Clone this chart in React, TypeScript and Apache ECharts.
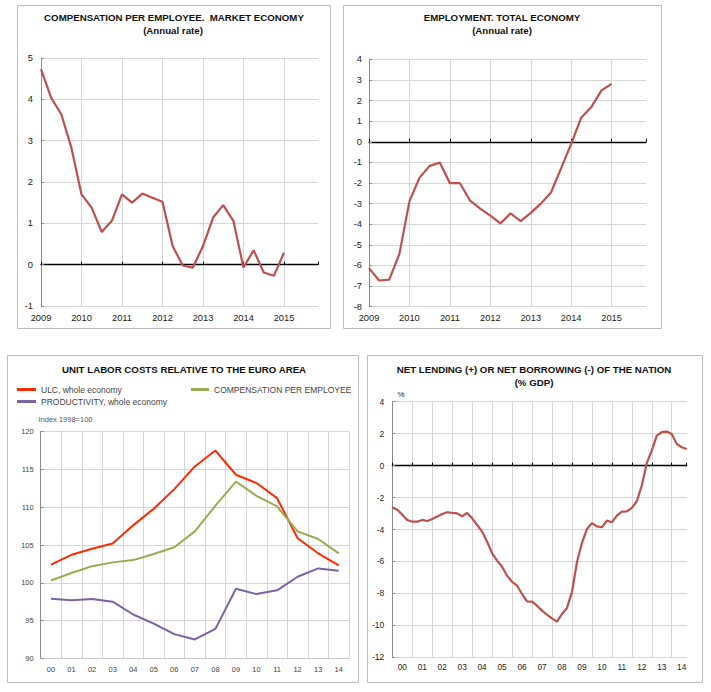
import React, { useEffect, useRef } from 'react';
import * as echarts from 'echarts';

// ---------- DATA ----------
// Panel 1: Compensation per employee, market economy (annual rate, quarterly from 2009Q1)
const compStartYear = 2009;
const compensationQ = [4.73, 4.04, 3.64, 2.83, 1.7, 1.38, 0.79, 1.06, 1.7, 1.5, 1.72, 1.62, 1.52, 0.45, -0.02, -0.07, 0.45, 1.14, 1.44, 1.06, -0.07, 0.35, -0.19, -0.27, 0.29];

// Panel 2: Employment, total economy (annual rate, quarterly from 2009Q1)
const empStartYear = 2009;
const employmentQ = [-6.13, -6.73, -6.69, -5.45, -2.89, -1.74, -1.17, -1.01, -2.01, -2.01, -2.86, -3.24, -3.58, -3.96, -3.47, -3.85, -3.45, -3.0, -2.46, -1.29, -0.1, 1.18, 1.69, 2.49, 2.81];

// Panel 3: Unit labor costs relative to the euro area (index 1998=100)
const ulcYears = ['00', '01', '02', '03', '04', '05', '06', '07', '08', '09', '10', '11', '12', '13', '14'];
const ulcWhole = [102.4, 103.7, 104.5, 105.2, 107.6, 109.8, 112.4, 115.4, 117.5, 114.3, 113.2, 111.2, 105.9, 103.9, 102.3];
const compPerEmployee = [100.3, 101.3, 102.2, 102.7, 103.0, 103.8, 104.7, 106.8, 110.2, 113.4, 111.5, 110.1, 106.8, 105.8, 103.9];
const productivity = [97.9, 97.7, 97.85, 97.5, 95.8, 94.6, 93.2, 92.5, 93.9, 99.2, 98.5, 99.0, 100.8, 101.9, 101.6];

// Panel 4: Net lending (+) / net borrowing (-) of the nation (% GDP, quarterly from 2000Q1)
const nlStartYear = 2000;
const netLendingQ = [
  -2.61, -2.76, -3.07, -3.4, -3.51, -3.51, -3.4, -3.47, -3.34, -3.19,
  -3.03, -2.92, -2.96, -2.99, -3.17, -2.96, -3.3, -3.72, -4.13, -4.76,
  -5.49, -5.95, -6.33, -6.89, -7.27, -7.52, -8.04, -8.5, -8.52, -8.77,
  -9.08, -9.33, -9.56, -9.77, -9.29, -8.91, -7.93, -6.05, -4.86, -3.97,
  -3.6, -3.8, -3.86, -3.44, -3.55, -3.13, -2.88, -2.86, -2.65, -2.23,
  -1.25, 0.15, 0.94, 1.88, 2.09, 2.13, 1.98, 1.36, 1.15, 1.04,
];

const S_ULC = 'ULC, whole economy';
const S_COMP = 'COMPENSATION PER EMPLOYEE';
const S_PROD = 'PRODUCTIVITY, whole economy';

// ---------- STYLE ----------
const FONT = '"Liberation Sans", Arial, Helvetica, sans-serif';
const GRID_COLOR = '#d6d6d6';
const AXIS_COLOR = '#8c8c8c';
const BRICK = '#c0504d';
const TITLE_SIZE = 9.7;

const quarterly = (start: number, vals: number[]) => vals.map((v, i) => [start + i / 4, v]);

function yAxisDef(grid: number, min: number, max: number, interval: number, fontSize: number, color: string, margin: number) {
  return {
    gridIndex: grid,
    type: 'value',
    min,
    max,
    interval,
    axisLine: { show: true, lineStyle: { color: AXIS_COLOR, width: 1 } },
    axisTick: { show: true, inside: true, length: 3, lineStyle: { color: AXIS_COLOR } },
    axisLabel: { fontSize, color, margin, fontFamily: FONT },
    splitLine: { show: true, lineStyle: { color: GRID_COLOR, width: 1 } },
  };
}

function zeroXAxis(grid: number, min: number, max: number) {
  return {
    gridIndex: grid,
    type: 'value',
    min,
    max,
    interval: 1,
    position: 'bottom',
    axisLine: { show: true, onZero: true, lineStyle: { color: '#000', width: 1.3 } },
    axisTick: { show: true, inside: true, length: 3, lineStyle: { color: '#000' } },
    axisLabel: { show: false },
    splitLine: { show: true, showMinLine: false, showMaxLine: false, lineStyle: { color: GRID_COLOR, width: 1 } },
  };
}

function labelXAxis(grid: number, min: number, max: number, interval: number, fmt: (v: number) => string, fontSize: number, color: string, margin: number) {
  return {
    gridIndex: grid,
    type: 'value',
    min,
    max,
    interval,
    position: 'bottom',
    axisLine: { show: false, onZero: false },
    axisTick: { show: false },
    axisLabel: { show: true, showMaxLabel: false, formatter: fmt, fontSize, color, margin, fontFamily: FONT },
    splitLine: { show: false },
  };
}

function titleText(x: number, y: number, text: string, size = TITLE_SIZE, bold = true, color = '#111') {
  return {
    type: 'text',
    x,
    y,
    silent: true,
    style: {
      text,
      fill: color,
      font: `${bold ? 'bold ' : ''}${size}px ${FONT}`,
      align: 'center',
      textAlign: 'center',
      verticalAlign: 'middle',
      textVerticalAlign: 'middle',
    },
  };
}

function plainText(x: number, y: number, text: string, size: number, color: string) {
  return {
    type: 'text',
    x,
    y,
    silent: true,
    style: {
      text,
      fill: color,
      font: `${size}px ${FONT}`,
      align: 'left',
      textAlign: 'left',
      verticalAlign: 'middle',
      textVerticalAlign: 'middle',
    },
  };
}

function border(x1: number, y1: number, x2: number, y2: number) {
  return {
    type: 'rect',
    silent: true,
    shape: { x: x1 + 0.5, y: y1 + 0.5, width: x2 - x1, height: y2 - y1 },
    style: { fill: 'none', stroke: '#bdbdbd', lineWidth: 1 },
  };
}

export default function App() {
  const ref = useRef<HTMLDivElement>(null);

  useEffect(() => {
    if (!ref.current) return;
    const chart = echarts.init(ref.current, null, { renderer: 'svg' });

    const yearFmt = (v: number) => (Math.abs(v - Math.round(v)) < 1e-6 ? String(Math.round(v)) : '');
    const halfYearFmt = (v: number) => {
      const f = Math.floor(v);
      return Math.abs(v - f - 0.5) < 1e-6 ? String(f % 100).padStart(2, '0') : '';
    };

    const option: any = {
      animation: false,
      textStyle: { fontFamily: FONT },
      grid: [
        { left: 41, top: 58, width: 277, height: 248 },
        { left: 369, top: 59.3, width: 277, height: 247.4 },
        { left: 40.7, top: 431.7, width: 308.3, height: 226.6 },
        { left: 392.3, top: 401.7, width: 294.4, height: 255.6 },
      ],
      xAxis: [
        zeroXAxis(0, 2009, 2015.84),
        labelXAxis(0, 2009, 2015.84, 1, yearFmt, 9.3, '#222', 7),
        zeroXAxis(1, 2009, 2015.85),
        labelXAxis(1, 2009, 2015.85, 1, yearFmt, 9.3, '#222', 7),
        {
          gridIndex: 2,
          type: 'category',
          data: ulcYears,
          boundaryGap: true,
          axisLine: { show: true, onZero: false, lineStyle: { color: '#c8c8c8' } },
          axisTick: { show: false },
          axisLabel: { fontSize: 7.5, color: '#444', margin: 7, interval: 0, fontFamily: FONT },
          splitLine: { show: true, interval: 0, lineStyle: { color: GRID_COLOR, width: 1 } },
        },
        zeroXAxis(3, 2000, 2014.75),
        labelXAxis(3, 2000, 2014.75, 0.5, halfYearFmt, 8.3, '#222', 6),
      ],
      yAxis: [
        yAxisDef(0, -1, 5, 1, 9.3, '#222', 8),
        yAxisDef(1, -8, 4, 1, 9.3, '#222', 7),
        yAxisDef(2, 90, 120, 5, 7.5, '#444', 7),
        yAxisDef(3, -12, 4, 2, 8.5, '#222', 8),
      ],
      legend: [
        { data: [S_ULC], left: 17, top: 385, padding: 0, itemWidth: 19, itemHeight: 3, icon: 'rect', textStyle: { fontSize: 8.5, color: '#444', fontFamily: FONT } },
        { data: [S_COMP], left: 191, top: 385, padding: 0, itemWidth: 18, itemHeight: 3, icon: 'rect', textStyle: { fontSize: 8.5, color: '#444', fontFamily: FONT } },
        { data: [S_PROD], left: 17, top: 397, padding: 0, itemWidth: 19, itemHeight: 3, icon: 'rect', textStyle: { fontSize: 8.5, color: '#444', fontFamily: FONT } },
      ],
      series: [
        {
          name: 'Compensation per employee',
          type: 'line',
          xAxisIndex: 0,
          yAxisIndex: 0,
          data: quarterly(compStartYear, compensationQ),
          symbol: 'none',
          lineStyle: { color: BRICK, width: 2.2 },
          itemStyle: { color: BRICK },
        },
        {
          name: 'Employment',
          type: 'line',
          xAxisIndex: 2,
          yAxisIndex: 1,
          data: quarterly(empStartYear, employmentQ),
          symbol: 'none',
          lineStyle: { color: BRICK, width: 2.2 },
          itemStyle: { color: BRICK },
        },
        {
          name: S_ULC,
          type: 'line',
          xAxisIndex: 4,
          yAxisIndex: 2,
          data: ulcWhole,
          symbol: 'none',
          lineStyle: { color: '#ff2a00', width: 2 },
          itemStyle: { color: '#ff2a00' },
        },
        {
          name: S_COMP,
          type: 'line',
          xAxisIndex: 4,
          yAxisIndex: 2,
          data: compPerEmployee,
          symbol: 'none',
          lineStyle: { color: '#9aab56', width: 2 },
          itemStyle: { color: '#9aab56' },
        },
        {
          name: S_PROD,
          type: 'line',
          xAxisIndex: 4,
          yAxisIndex: 2,
          data: productivity,
          symbol: 'none',
          lineStyle: { color: '#7b62a3', width: 2 },
          itemStyle: { color: '#7b62a3' },
        },
        {
          name: 'Net lending',
          type: 'line',
          xAxisIndex: 5,
          yAxisIndex: 3,
          data: quarterly(nlStartYear, netLendingQ),
          symbol: 'none',
          lineStyle: { color: BRICK, width: 2.2 },
          itemStyle: { color: BRICK },
        },
      ],
      graphic: [
        border(17, 5, 330, 328),
        border(343, 5, 661, 328),
        border(7, 355, 358, 682),
        border(367, 355, 702, 682),
        titleText(174, 17, 'COMPENSATION PER EMPLOYEE.  MARKET ECONOMY'),
        titleText(173, 30, '(Annual rate)'),
        titleText(502, 17, 'EMPLOYMENT. TOTAL ECONOMY'),
        titleText(502, 30, '(Annual rate)'),
        titleText(184, 369, 'UNIT LABOR COSTS RELATIVE TO THE EURO AREA'),
        titleText(534, 369, 'NET LENDING (+) OR NET BORROWING (-) OF THE NATION'),
        titleText(534, 382, '(% GDP)'),
        plainText(38.5, 419, 'Index 1998=100', 7.5, '#555'),
        plainText(397.5, 394.5, '%', 8, '#222'),
      ],
    };

    chart.setOption(option);
    return () => chart.dispose();
  }, []);

  return (
    <div
      ref={ref}
      style={{ position: 'absolute', left: 0, top: 0, width: 711, height: 692, background: '#fff' }}
    />
  );
}
